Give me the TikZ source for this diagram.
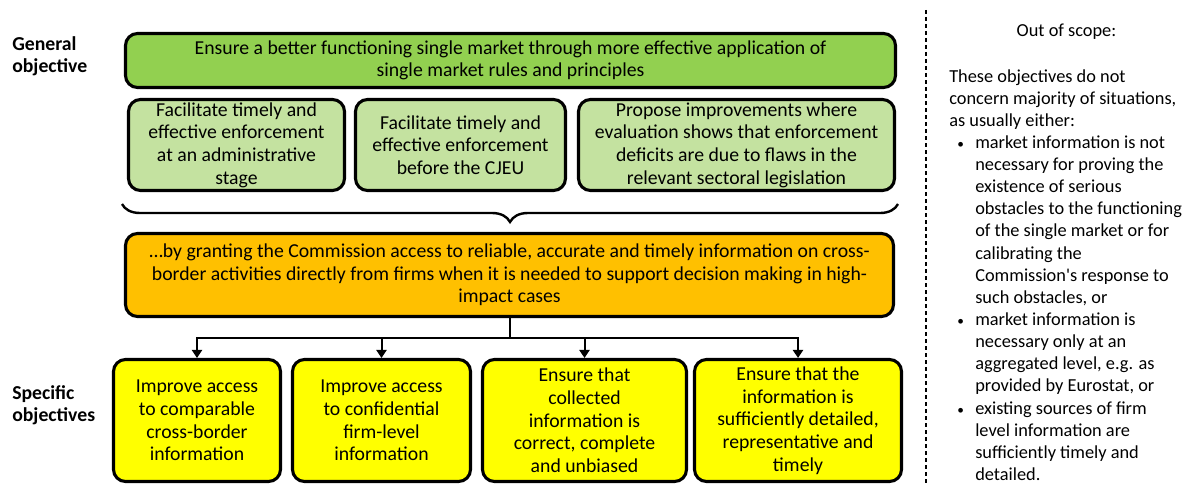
\documentclass[tikz,border=0pt]{standalone}
\usepackage{fontspec}
\setmainfont{Carlito}[Ligatures=TeXOff]
\usetikzlibrary{arrows.meta, decorations.pathreplacing}
\definecolor{goalgreen}{RGB}{146,208,80}
\definecolor{subgreen}{RGB}{196,226,160}
\definecolor{meansorange}{RGB}{255,192,0}
\definecolor{specyellow}{RGB}{255,255,0}
\newcommand{\smallbul}{\hspace*{6pt}\makebox[13.5pt][l]{\fontsize{10}{10}\selectfont\textbullet}}

\begin{document}
\begin{tikzpicture}[x=0.75pt, y=-0.75pt,
  box/.style={rectangle, draw, rounded corners=9pt, line width=2.3pt, align=center, inner sep=1pt, font=\fontsize{14.8}{17}\selectfont},
  goal/.style={box, fill=goalgreen, minimum width=577.5pt, minimum height=40.5pt},
  sub/.style={box, fill=subgreen, minimum height=68.25pt},
  means/.style={box, fill=meansorange, minimum width=576pt, minimum height=62.25pt},
  spec/.style={box, fill=specyellow, minimum height=91.5pt},
  lbl/.style={align=left, inner sep=0pt, font=\fontsize{14.8}{17}\selectfont\bfseries},
  arrow/.style={-{Triangle[length=6pt, width=7.5pt]}, line width=1.5pt},
  brace/.style={decorate, decoration={brace, mirror, amplitude=13.5pt}, line width=1.8pt}
]
\useasboundingbox (0,0) rectangle (1187,485);

% left labels
\node[lbl, anchor=north west] (genlbl) at (12,36) {General\\objective};
\node[lbl, anchor=north west] (speclbl) at (12,385) {Specific\\objectives};

% general objective
\node[goal] (goal) at (510.5,60.5) {Ensure a better functioning single market through more effective application of\\single market rules and principles};
\node[sub, minimum width=162pt] (sub1) at (236.5,145) {Facilitate timely and\\effective enforcement\\at an administrative\\stage};
\node[sub, minimum width=157.5pt] (sub2) at (460.5,145) {Facilitate timely and\\effective enforcement\\before the CJEU};
\node[sub, minimum width=237pt] (sub3) at (736.5,145) {Propose improvements where\\evaluation shows that enforcement\\deficits are due to flaws in the\\relevant sectoral legislation};

\draw[brace] (122,204) -- (898,204);

% means
\node[means] (means) at (509.5,275) {…by granting the Commission access to reliable, accurate and timely information on cross-\\border activities directly from firms when it is needed to support decision making in high-\\impact cases};

% specific objectives
\node[spec, minimum width=125.25pt] (s1) at (197,420.5) {Improve access\\to comparable\\cross-border\\information};
\node[spec, minimum width=133.5pt] (s2) at (381.5,420.5) {Improve access\\to confidential\\firm-level\\information};
\node[spec, minimum width=153pt] (s3) at (584.5,420.5) {Ensure that\\collected\\information is\\correct, complete\\and unbiased};
\node[spec, minimum width=155.25pt] (s4) at (798,420.5) {Ensure that the\\information is\\sufficiently detailed,\\representative and\\timely};

\draw[line width=1.5pt] (means.south) -- ++(0,20) coordinate (split);
\foreach \s in {s1,s2,s3,s4}
  \draw[arrow] (split) -| (\s.north);

% out of scope
\draw[line width=0.8pt, dash pattern=on 3pt off 2.25pt] (926,10) -- (926,485);
\node[anchor=base, inner sep=0pt, font=\fontsize{13.75}{16.6}\selectfont] (oos) at (1066.5,37) {Out of scope:};
\node[anchor=north west, align=left, inner sep=0pt, font=\fontsize{13.75}{16.6}\selectfont] (scope) at (949,69) {These objectives do not\\
concern majority of situations,\\
as usually either:\\
\smallbul market information is not\\
\hspace*{19.5pt}necessary for proving the\\
\hspace*{19.5pt}existence of serious\\
\hspace*{19.5pt}obstacles to the functioning\\
\hspace*{19.5pt}of the single market or for\\
\hspace*{19.5pt}calibrating the\\
\hspace*{19.5pt}Commission's response to\\
\hspace*{19.5pt}such obstacles, or\\
\smallbul market information is\\
\hspace*{19.5pt}necessary only at an\\
\hspace*{19.5pt}aggregated level, e.g. as\\
\hspace*{19.5pt}provided by Eurostat, or\\
\smallbul existing sources of firm\\
\hspace*{19.5pt}level information are\\
\hspace*{19.5pt}sufficiently timely and\\
\hspace*{19.5pt}detailed.};

\end{tikzpicture}
\end{document}
